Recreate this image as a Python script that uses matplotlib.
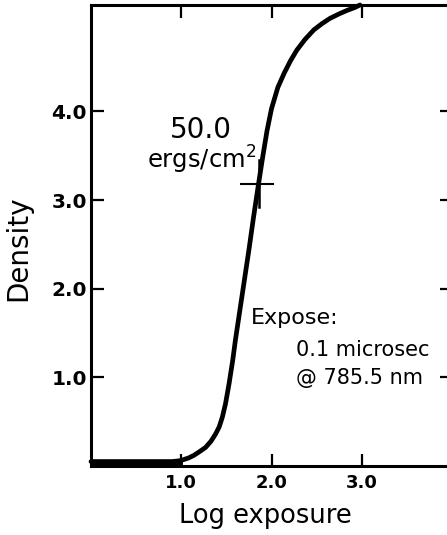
import numpy as np
import matplotlib
matplotlib.use("Agg")
import matplotlib.pyplot as plt

# characteristic curve
log_exposure = [0.0, 0.5, 0.9, 0.99, 1.08, 1.14, 1.20, 1.27, 1.33, 1.38, 1.42,
                1.455, 1.49, 1.53, 1.57, 1.60, 1.65, 1.70, 1.75, 1.80, 1.85,
                1.90, 1.95, 2.00, 2.07, 2.14, 2.21, 2.28, 2.37, 2.47, 2.56,
                2.65, 2.75, 2.84, 2.92, 2.98]
density = [0.05, 0.05, 0.05, 0.06, 0.09, 0.12, 0.16, 0.21, 0.28, 0.36, 0.44,
           0.55, 0.70, 0.93, 1.19, 1.42, 1.76, 2.10, 2.44, 2.80, 3.14,
           3.47, 3.78, 4.03, 4.27, 4.43, 4.57, 4.69, 4.81, 4.92, 4.99,
           5.05, 5.10, 5.14, 5.17, 5.20]

mark_x, mark_y = 1.86, 3.18
x_ticks = [1.0, 2.0, 3.0]
x_tick_labels = ["1.0", "2.0", "3.0"]
y_ticks = [1.0, 2.0, 3.0, 4.0]
y_tick_labels = ["1.0", "2.0", "3.0", "4.0"]

fig = plt.figure(figsize=(4.47, 5.35), dpi=100)
ax = fig.add_axes([0.2036, 0.129, 0.8076, 0.8617])

ax.plot(log_exposure, density, color="black", lw=3.4, solid_capstyle="round",
        solid_joinstyle="round", clip_on=False)
ax.plot([0, 0.99], [0.03, 0.03], color="black", lw=3.5)

# cross marking 50 ergs/cm2
ax.plot([1.66, 2.02], [mark_y, mark_y], color="black", lw=1.5)
ax.plot([mark_x, mark_x], [2.92, 3.45], color="black", lw=1.8)

ax.set_xlim(0, 4.0)
ax.set_ylim(0, 5.2)
for s in ax.spines.values():
    s.set_linewidth(2.2)

ax.set_xticks(x_ticks)
ax.set_xticklabels(x_tick_labels)
ax.set_yticks(y_ticks)
ax.set_yticklabels(y_tick_labels)
ax.tick_params(direction="in", length=9, width=1.6, top=True, right=True)
ax.tick_params(axis="x", pad=6, labelsize=13)
ax.tick_params(axis="y", pad=3, labelsize=14.5)
for lab in ax.get_xticklabels() + ax.get_yticklabels():
    lab.set_fontweight("bold")

ax.set_xlabel("Log exposure", fontsize=18.5)
ax.set_ylabel("Density", fontsize=20)
ax.xaxis.set_label_coords(0.482, -0.08)
ax.yaxis.set_label_coords(-0.163, 0.473)

ax.text(1.22, 3.79, "50.0", fontsize=20, ha="center", va="center")
ax.text(1.23, 3.45, "ergs/cm$^2$", fontsize=17.5, ha="center", va="center")

ax.text(1.77, 1.67, "Expose:", fontsize=16, ha="left", va="center")
ax.text(2.27, 1.31, "0.1 microsec", fontsize=15, ha="left", va="center")
ax.text(2.27, 0.99, "@ 785.5 nm", fontsize=15, ha="left", va="center")

fig.savefig("out.png", dpi=100)
